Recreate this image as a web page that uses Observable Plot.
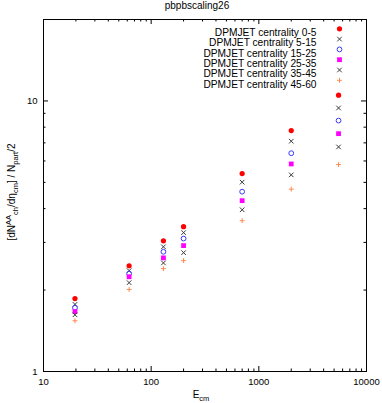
<!DOCTYPE html>
<html>
<head>
<meta charset="utf-8">
<script src="https://cdn.jsdelivr.net/npm/d3@7"></script>
<script src="https://cdn.jsdelivr.net/npm/@observablehq/plot@0.6"></script>
<style>
  html, body { margin: 0; padding: 0; background: #fff; }
  svg { display: block; }
</style>
</head>
<body>
<div id="chart"></div>
<script>
const title = "pbpbscaling26";
const energies = [19.6, 62.4, 130, 200, 700, 2000, 5500];
const seriesLabels = [
  "DPMJET centrality 0-5",
  "DPMJET centrality 5-15",
  "DPMJET centrality 15-25",
  "DPMJET centrality 25-35",
  "DPMJET centrality 35-45",
  "DPMJET centrality 45-60"
];
const c0_5   = [1.86, 2.46, 3.04, 3.43, 5.39, 7.77, 10.5];
const c5_15  = [1.77, 2.36, 2.89, 3.26, 5.01, 7.10, 9.42];
const c15_25 = [1.72, 2.30, 2.77, 3.10, 4.62, 6.41, 8.46];
const c25_35 = [1.665, 2.24, 2.63, 2.92, 4.28, 5.85, 7.57];
const c35_45 = [1.62, 2.13, 2.52, 2.75, 3.96, 5.33, 6.76];
const c45_60 = [1.54, 2.01, 2.40, 2.57, 3.61, 4.72, 5.82];
const xMajor = [10, 100, 1000, 10000];
const xMinor = [20,30,40,50,60,70,80,90,200,300,400,500,600,700,800,900,2000,3000,4000,5000,6000,7000,8000,9000];
const yMajor = [1, 10];
const yMinor = [2,3,4,5,6,7,8,9,20];

const allValues = [c0_5, c5_15, c15_25, c25_35, c35_45, c45_60];
const styles = [
  {symbol: "circle", fill: "#ff0000", stroke: "none", r: 2.6},
  {symbol: "times",  fill: "none", stroke: "#3a3a3a", r: 2.2},
  {symbol: "circle", fill: "none", stroke: "#3a3aff", r: 2.4},
  {symbol: "square", fill: "#ff00ff", stroke: "none", r: 2.7},
  {symbol: "times",  fill: "none", stroke: "#3a3a3a", r: 2.2},
  {symbol: "plus",   fill: "none", stroke: "#ff8a50", r: 1.7}
];

const W = 382, H = 403;
const mL = 43, mR = 16, mT = 19, mB = 32;
const fw = W - mL - mR, fh = H - mT - mB;
const font = "Liberation Sans, Arial, Helvetica, sans-serif";

const marks = [];
const majLen = 5, minLen = 2.5;
marks.push(Plot.tickX(xMajor, {x: d => d, insetTop: fh - majLen, stroke: "black"}));
marks.push(Plot.tickX(xMajor, {x: d => d, insetBottom: fh - majLen, stroke: "black"}));
marks.push(Plot.tickX(xMinor, {x: d => d, insetTop: fh - minLen, stroke: "black"}));
marks.push(Plot.tickX(xMinor, {x: d => d, insetBottom: fh - minLen, stroke: "black"}));
marks.push(Plot.tickY(yMajor, {y: d => d, insetRight: fw - majLen, stroke: "black"}));
marks.push(Plot.tickY(yMajor, {y: d => d, insetLeft: fw - majLen, stroke: "black"}));
marks.push(Plot.tickY(yMinor, {y: d => d, insetRight: fw - minLen, stroke: "black"}));
marks.push(Plot.tickY(yMinor, {y: d => d, insetLeft: fw - minLen, stroke: "black"}));
marks.push(Plot.frame({stroke: "black", strokeWidth: 1}));
marks.push(Plot.axisX({ticks: xMajor, tickSize: 0, tickPadding: 7, tickFormat: d => String(d), fontSize: 9.5, label: null}));
marks.push(Plot.axisY({ticks: yMajor, tickSize: 0, tickPadding: 6, tickFormat: d => String(d), fontSize: 9.5, label: null}));

allValues.forEach((vals, i) => {
  const s = styles[i];
  const rows = energies.map((e, j) => ({e, v: vals[j]}));
  marks.push(Plot.dot(rows, {x: "e", y: "v", symbol: () => s.symbol, r: s.r, fill: s.fill, stroke: s.stroke, strokeWidth: 1}));
  marks.push(Plot.text([seriesLabels[i]], {frameAnchor: "top-right", dx: -50, dy: 9.3 + i * 10.3, textAnchor: "end", fontSize: 10.2, fill: "black"}));
  marks.push(Plot.dot([0], {frameAnchor: "top-right", dx: -27, dy: 9.3 + i * 10.3, symbol: () => s.symbol, r: s.r, fill: s.fill, stroke: s.stroke, strokeWidth: 1}));
});
marks.push(Plot.text([title], {frameAnchor: "top", dx: -8, dy: -11, fontSize: 10, fill: "black", lineAnchor: "bottom"}));

const svg = Plot.plot({
  width: W, height: H,
  marginLeft: mL, marginRight: mR, marginTop: mT, marginBottom: mB,
  style: {fontFamily: font, background: "white", overflow: "visible"},
  x: {type: "log", domain: [10, 10000], axis: null},
  y: {type: "log", domain: [1, 20], axis: null},
  symbol: {type: "identity"},
  marks
});

const s = d3.select(svg);
const yl = s.append("text")
  .attr("transform", "translate(15,192) rotate(-90)")
  .attr("text-anchor", "middle")
  .attr("font-family", font).attr("font-size", 10).attr("fill", "black");
const parts = [
  ["[dN", 0, 10], ["AA", -4, 7.5], ["ch", 7, 7.5], ["/dη", -3, 10], ["cm", 3, 7.5], ["] / N", -3, 10], ["part", 3, 7.5], ["/2", -3, 10]
];
parts.forEach(([t, dy, fs]) => yl.append("tspan").attr("dy", dy).attr("font-size", fs).text(t));
const xl = s.append("text")
  .attr("x", 201).attr("y", 398)
  .attr("text-anchor", "middle")
  .attr("font-family", font).attr("font-size", 10).attr("fill", "black");
xl.append("tspan").text("E");
xl.append("tspan").attr("dy", 3).attr("font-size", 7.5).text("cm");

document.getElementById("chart").appendChild(svg);
</script>
</body>
</html>
